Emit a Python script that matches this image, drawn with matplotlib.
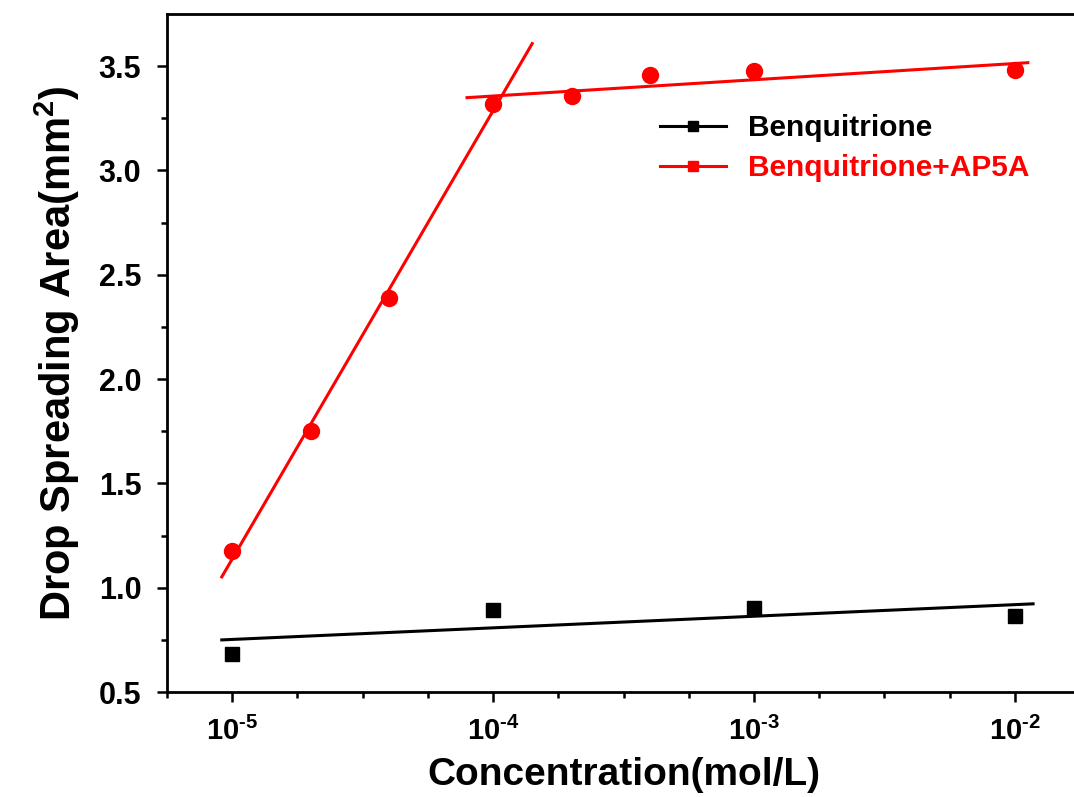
import numpy as np
import matplotlib
matplotlib.use('Agg')
import matplotlib.pyplot as plt
from matplotlib.ticker import FixedLocator, FuncFormatter

plt.rcParams['font.family'] = ['Liberation Sans', 'DejaVu Sans']
plt.rcParams['font.weight'] = 'bold'
plt.rcParams['mathtext.fontset'] = 'custom'
plt.rcParams['mathtext.rm'] = 'Liberation Sans:bold'
plt.rcParams['mathtext.bf'] = 'Liberation Sans:bold'
plt.rcParams['mathtext.default'] = 'rm'

# Benquitrione alone
conc_black = [1e-5, 1e-4, 1e-3, 1e-2]
area_black = [0.682, 0.893, 0.903, 0.864]

# Benquitrione + AP5A
conc_red = [1e-5, 2e-5, 4e-5, 1e-4, 2e-4, 4e-4, 1e-3, 1e-2]
area_red = [1.176, 1.753, 2.391, 3.32, 3.356, 3.457, 3.476, 3.48]

# log10 ranges over which the fit lines are drawn
fit_black_range = (-5.04, -1.93)
fit_red_steep_range = (-5.04, -3.85)
fit_red_flat_range = (-4.10, -1.95)


def fit_line(x, y, lo, hi):
    lx = np.log10(x)
    k, b = np.polyfit(lx, y, 1)
    xs = np.array([lo, hi])
    return 10 ** xs, k * xs + b


fig = plt.figure(figsize=(10.74, 7.97), dpi=100)
ax = fig.add_axes([0.1555, 0.1317, 0.8501, 0.8507])

# data points
ax.plot(conc_black, area_black, 's', color='black', ms=9.5, zorder=3)
ax.plot(conc_red, area_red, 'o', color='red', ms=11.5, zorder=3)

# linear fits in log(x)
xb, yb = fit_line(conc_black, area_black, *fit_black_range)
ax.plot(xb, yb, '-', color='black', lw=2.2)
xr1, yr1 = fit_line(conc_red[:4], area_red[:4], *fit_red_steep_range)
ax.plot(xr1, yr1, '-', color='red', lw=2.2)
xr2, yr2 = fit_line(conc_red[3:], area_red[3:], *fit_red_flat_range)
ax.plot(xr2, yr2, '-', color='red', lw=2.2)

# legend proxies
ax.plot([], [], '-s', color='black', ms=7, lw=2.2, label='Benquitrione')
ax.plot([], [], '-s', color='red', ms=7, lw=2.2, label='Benquitrione+AP5A')
leg = ax.legend(loc='upper left', bbox_to_anchor=(0.54, 0.852), frameon=False,
                fontsize=21.5, handlelength=2.2, handletextpad=0.75,
                labelspacing=0.4, borderaxespad=0, borderpad=0)
leg.get_texts()[1].set_color('red')

ax.set_xscale('log')
ax.set_xlim(10 ** -5.25, 10 ** -1.75)
ax.set_ylim(0.5, 3.75)

ax.xaxis.set_major_locator(FixedLocator([1e-5, 1e-4, 1e-3, 1e-2]))
minors = [10 ** (d + f) for d in range(-6, -1) for f in (0.25, 0.5, 0.75)]
ax.xaxis.set_minor_locator(FixedLocator(minors))
ax.xaxis.set_major_formatter(FuncFormatter(
    lambda v, p: r'10$^{\text{-%d}}$' % abs(int(round(np.log10(v))))))
ax.xaxis.set_minor_formatter(FuncFormatter(lambda v, p: ''))

ax.set_yticks([0.5, 1.0, 1.5, 2.0, 2.5, 3.0, 3.5])
ax.set_yticks(np.arange(0.75, 3.75, 0.5), minor=True)
ax.yaxis.set_major_formatter(FuncFormatter(lambda v, p: '%.1f' % v))

ax.tick_params(which='major', direction='out', length=7.5, width=1.8,
               labelsize=22, pad=6)
ax.tick_params(which='minor', direction='out', length=4.5, width=1.8)
ax.tick_params(axis='y', which='major', pad=11)
ax.tick_params(axis='x', which='major', labelsize=21, pad=10)
for s in ax.spines.values():
    s.set_linewidth(2.0)

ax.set_xlabel('Concentration(mol/L)', fontsize=28, fontweight='bold', labelpad=8)
ax.set_ylabel(r'Drop Spreading Area(mm$^{\mathbf{2}}$)', fontsize=30,
              fontweight='bold', labelpad=12)

fig.savefig('out.png', dpi=100)
